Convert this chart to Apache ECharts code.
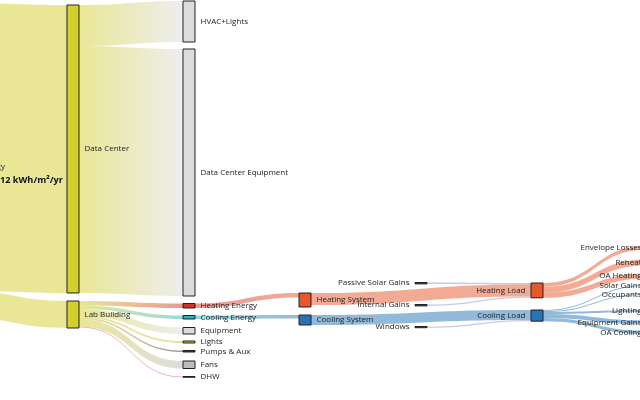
<!DOCTYPE html>
<html><head><meta charset="utf-8">
<script src="https://cdn.jsdelivr.net/npm/echarts@6/dist/echarts.min.js"></script>
<style>html,body{margin:0;padding:0;background:#fff}#c{width:640px;height:400px}</style>
</head><body><div id="c"></div>
<script>
// ---------- DATA ----------
const nodeNames = ['Total', 'Data Center', 'Lab Building',
  'HVAC+Lights', 'Data Center Equipment', 'Heating Energy', 'Cooling Energy', 'Equipment', 'Lights', 'Pumps & Aux', 'Fans', 'DHW',
  'Heating System', 'Cooling System',
  'Passive Solar Gains', 'Internal Gains', 'Windows',
  'Heating Load', 'Cooling Load',
  'Envelope Losses', 'Reheat', 'OA Heating', 'Solar Gains', 'Occupants', 'Lighting', 'Equipment Gains', 'OA Cooling'];
const nodeColumns = [0, 1, 1, 2, 2, 2, 2, 2, 2, 2, 2, 2, 3, 3, 4, 4, 4, 5, 5, 6, 6, 6, 6, 6, 6, 6, 6];
const nodeOwnValues = {'Heating System': 458};
const totalLines = ['Total', 'Energy'];
const totalValueText = '10,312 kWh/m²/yr';

const linkSources = ['Total', 'Total',
  'Data Center', 'Data Center',
  'Lab Building', 'Lab Building', 'Lab Building', 'Lab Building', 'Lab Building', 'Lab Building', 'Lab Building',
  'Heating Energy', 'Cooling Energy',
  'Passive Solar Gains', 'Heating System', 'Internal Gains',
  'Cooling System', 'Windows',
  'Heating Load', 'Heating Load', 'Heating Load',
  'Cooling Load', 'Cooling Load', 'Cooling Load', 'Cooling Load', 'Cooling Load'];
const linkTargets = ['Data Center', 'Lab Building',
  'HVAC+Lights', 'Data Center Equipment',
  'Heating Energy', 'Cooling Energy', 'Equipment', 'Lights', 'Pumps & Aux', 'Fans', 'DHW',
  'Heating System', 'Cooling System',
  'Heating Load', 'Heating Load', 'Heating Load',
  'Cooling Load', 'Cooling Load',
  'Envelope Losses', 'Reheat', 'OA Heating',
  'Solar Gains', 'Occupants', 'Lighting', 'Equipment Gains', 'OA Cooling'];
const linkValues = [9428, 884,
  1342, 8086,
  147, 115, 213, 65, 49, 246, 26,
  147, 115,
  46, 393, 46,
  327, 39,
  124, 196, 165,
  33, 33, 62, 131, 107];

// ---------- STYLE / LAYOUT ----------
const nodeColors = ['#d4d12e', '#d3cf2c', '#d3cf2c',
  '#dcdcdc', '#dcdcdc', '#d63229', '#2cb6c2', '#dcdcdc', '#cfcb35', '#3a3a3a', '#bdbdbd', '#7a7a7a',
  '#e8562a', '#2673b6',
  '#4a4a4a', '#4a4a4a', '#4a4a4a',
  '#e8562a', '#2673b6',
  '#e8562a', '#e8562a', '#e8562a', '#2673b6', '#2673b6', '#2673b6', '#2673b6', '#2673b6'];
// vertical placement of each node's top edge (px in the 400px canvas)
const nodeTopPx = [3, 5, 301,
  1, 49, 303.5, 315.5, 327.5, 341, 350.5, 361, 376.5,
  293, 315,
  282.5, 304.5, 326.5,
  283, 310,
  245.8, 259.3, 273.5, 285.2, 293.8, 310, 320.3, 330.7];
const linkColorOverride = {'DHW': '#e07070', 'Passive Solar Gains': '#9a8fd0', 'Internal Gains': '#9a8fd0', 'Windows': '#9a8fd0'};

const H = 800;                 // layout height used by the series
const pxPerUnit = 315 / 10312; // vertical scale
const inSum = {}, outSum = {};
linkValues.forEach((v, i) => {
  outSum[linkSources[i]] = (outSum[linkSources[i]] || 0) + v;
  inSum[linkTargets[i]] = (inSum[linkTargets[i]] || 0) + v;
});
const colSum = {}, colCount = {};
nodeNames.forEach((n, i) => {
  const v = Math.max(inSum[n] || 0, outSum[n] || 0, nodeOwnValues[n] || 0);
  const c = nodeColumns[i];
  colSum[c] = (colSum[c] || 0) + v;
  colCount[c] = (colCount[c] || 0) + 1;
});
let gap = Infinity;
Object.keys(colSum).forEach(c => {
  if (colCount[c] > 1) gap = Math.min(gap, (H - pxPerUnit * colSum[c]) / (colCount[c] - 1));
});

const fontFamily = "'Open Sans', 'Noto Sans', sans-serif";
const textColor = '#222';
const nodes = nodeNames.map((n, i) => {
  const item = {
    name: n,
    depth: nodeColumns[i],
    localY: nodeTopPx[i] / H,
    itemStyle: {color: nodeColors[i]}
  };
  if (nodeOwnValues[n] != null) item.value = nodeOwnValues[n];
  if (nodeColumns[i] >= 4) item.label = {position: 'left'};
  if (n === 'Total') {
    item.label = {
      distance: 16,
      offset: [0, 6.5],
      formatter: totalLines.map(t => '{r|' + t + '}').join('\n') + '\n{b|' + totalValueText + '}',
      rich: {
        r: {fontSize: 8, lineHeight: 13, fontFamily: fontFamily, color: textColor},
        b: {fontSize: 9.2, fontWeight: 'bold', lineHeight: 13, fontFamily: fontFamily, color: '#111', padding: [0, 0, 0, 2]}
      }
    };
  }
  return item;
});
const links = linkValues.map((v, i) => {
  const l = {source: linkSources[i], target: linkTargets[i], value: v};
  const oc = linkColorOverride[linkTargets[i]] || linkColorOverride[linkSources[i]];
  if (oc) l.lineStyle = {color: oc, opacity: 0.5};
  return l;
});

const chart = echarts.init(document.getElementById('c'), null, {renderer: 'canvas'});
chart.setOption({
  animation: false,
  backgroundColor: '#fff',
  series: [{
    type: 'sankey',
    left: -49, right: -19, top: 0, bottom: 400 - H,
    nodeWidth: 12,
    nodeGap: gap,
    nodeAlign: 'left',
    layoutIterations: 0,
    draggable: false,
    emphasis: {disabled: true},
    data: nodes,
    links: links,
    itemStyle: {borderColor: '#222', borderWidth: 1},
    lineStyle: {color: 'gradient', opacity: 0.5, curveness: 0.5},
    label: {show: true, position: 'right', distance: 5, fontSize: 8, fontFamily: fontFamily, color: textColor}
  }]
});
</script>
</body></html>
